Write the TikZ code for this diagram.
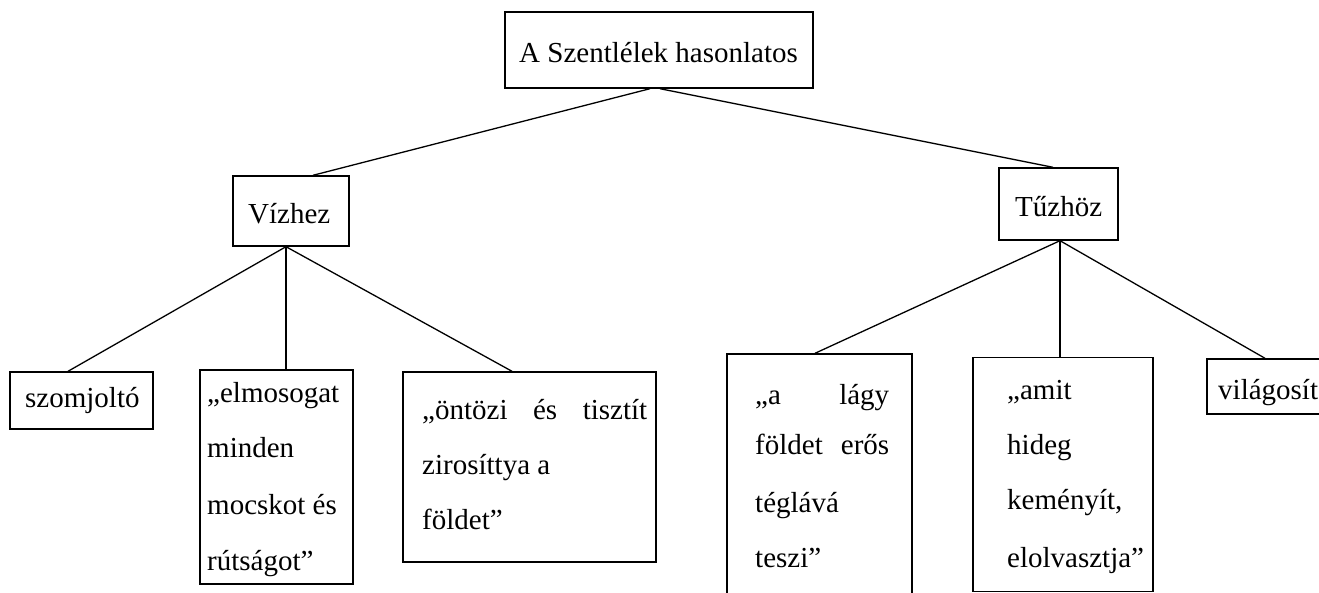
\documentclass[tikz,border=0pt]{standalone}
\usepackage{fontspec}
\setmainfont{Liberation Serif}
\begin{document}
\begin{tikzpicture}[x=1pt,y=-1pt,
  box/.style={draw=black,line width=1.4pt,rectangle,inner sep=0pt,fill=none},
  txt/.style={anchor=base west,inner sep=0pt,font=\fontsize{29}{35}\selectfont},
  link/.style={draw=black,line width=1.3pt}]
\useasboundingbox (0,0) rectangle (1319,593);
\clip (0,0) rectangle (1319,593);
% boxes
\node[box,minimum width=308pt,minimum height=76pt] (root) at (659,50) {};
\node[box,minimum width=116pt,minimum height=70pt] (viz) at (291,211) {};
\node[box,minimum width=119pt,minimum height=72pt] (tuz) at (1058.5,204) {};
\node[box,minimum width=143pt,minimum height=57pt] (szom) at (81.5,400.5) {};
\node[box,minimum width=153pt,minimum height=214pt] (elmo) at (276.5,477) {};
\node[box,minimum width=253pt,minimum height=190pt] (ontoz) at (529.5,467) {};
\node[box,minimum width=185pt,minimum height=246pt] (lagy) at (819.5,477) {};
\node[box,minimum width=180pt,minimum height=234pt] (amit) at (1063,474.5) {};
\node[box,minimum width=133pt,minimum height=55pt] (vilag) at (1273.5,386.5) {};
% texts
\node[txt] (t0) at (519,63) {A Szentlélek hasonlatos};
\node[txt] (t1) at (248,224) {Vízhez};
\node[txt] (t2) at (1015,217) {Tűzhöz};
\node[txt] (t3) at (25,407) {szomjoltó};
\node[txt] (t4a) at (207,402) {„elmosogat};
\node[txt] (t4b) at (207,457) {minden};
\node[txt] (t4c) at (207,514) {mocskot és};
\node[txt] (t4d) at (207,570) {rútságot”};
\node[txt] (t5a) at (422,419) {\makebox[225pt][s]{„öntözi és tisztít}};
\node[txt] (t5b) at (422,474) {zirosíttya a};
\node[txt] (t5c) at (422,529) {földet”};
\node[txt] (t6a) at (755,404) {\makebox[134pt][s]{„a lágy}};
\node[txt] (t6b) at (755,454) {\makebox[134pt][s]{földet erős}};
\node[txt] (t6c) at (755,512) {téglává};
\node[txt] (t6d) at (755,567) {teszi”};
\node[txt] (t7a) at (1007,399) {„amit};
\node[txt] (t7b) at (1007,454) {hideg};
\node[txt] (t7c) at (1007,509) {keményít,};
\node[txt] (t7d) at (1007,567) {elolvasztja”};
\node[txt] (t8) at (1218,399) {világosít};
% connectors
\draw[link] ([xshift=-9pt]root.south) -- ([xshift=22pt]viz.north);
\draw[link] ([xshift=1pt]root.south) -- ([xshift=-5.5pt]tuz.north);
\draw[link] ([xshift=-5pt]viz.south) -- ([xshift=-13.5pt]szom.north);
\draw[link] ([xshift=-5pt]viz.south) -- ([xshift=9.5pt]elmo.north);
\draw[link] ([xshift=-5pt]viz.south) -- ([xshift=-17.5pt]ontoz.north);
\draw[link] ([xshift=1.5pt]tuz.south) -- ([xshift=-4.5pt]lagy.north);
\draw[link] ([xshift=1.5pt]tuz.south) -- ([xshift=-3pt]amit.north);
\draw[link] ([xshift=1.5pt]tuz.south) -- ([xshift=-8.5pt]vilag.north);
\end{tikzpicture}
\end{document}
